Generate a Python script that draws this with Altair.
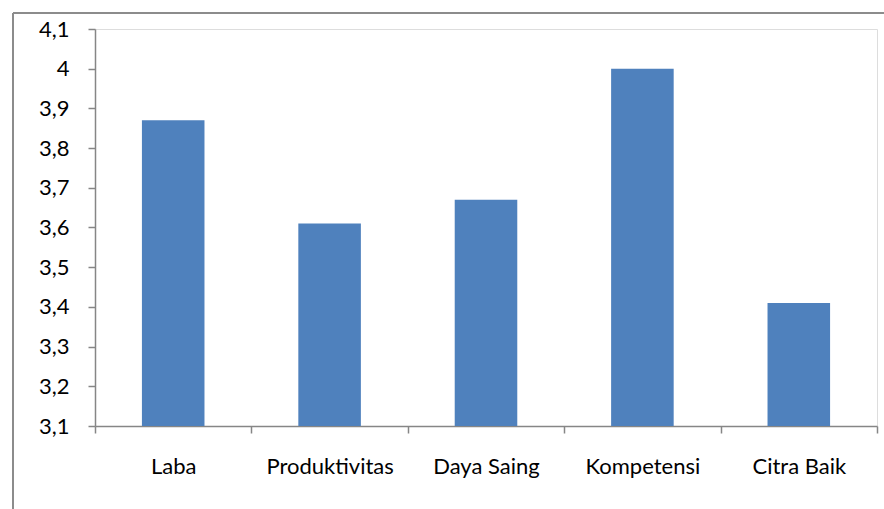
import altair as alt
import pandas as pd

categories = ["Laba", "Produktivitas", "Daya Saing", "Kompetensi", "Citra Baik"]
values = [3.87, 3.61, 3.67, 4.00, 3.41]
y_ticks = [3.1, 3.2, 3.3, 3.4, 3.5, 3.6, 3.7, 3.8, 3.9, 4.0, 4.1]

df = pd.DataFrame({"cat": categories, "val": values})

FONT = "Lato"
GRAY = "#868686"

bars = alt.Chart(df).mark_bar(color="#4F81BD", width=alt.RelativeBandSize(0.4), clip=True).encode(
    x=alt.X("cat:N", sort=categories, title=None,
            scale=alt.Scale(paddingInner=0, paddingOuter=0),
            axis=alt.Axis(labelAngle=0, tickBand="extent", domainColor=GRAY, tickColor=GRAY,
                          tickSize=7, tickWidth=1.5, domainWidth=1.5, labelFont=FONT,
                          labelFontSize=22, labelColor="black", labelPadding=23)),
    y=alt.Y("val:Q", title=None,
            scale=alt.Scale(domain=[3.1, 4.1], zero=False, nice=False),
            axis=alt.Axis(values=y_ticks, grid=False, domainColor=GRAY, tickColor=GRAY,
                          tickSize=7, tickWidth=1.5, domainWidth=1.5, labelFont=FONT,
                          labelFontSize=22, labelColor="black", labelPadding=19,
                          labelExpr="replace(format(datum.value, '.2~f'), '.', ',')")),
    y2=alt.datum(3.1),
)

frame_left = alt.Chart(df).mark_rule(color="#8c8c8c", strokeWidth=2, clip=False).encode(
    x=alt.value(-82), y=alt.value(-16), y2=alt.value(600)
)
frame_top = alt.Chart(df).mark_rule(color="#8c8c8c", strokeWidth=2, clip=False).encode(
    x=alt.value(-82), x2=alt.value(900), y=alt.value(-16)
)

chart = alt.layer(frame_left, frame_top, bars).properties(
    width=782, height=397,
    autosize=alt.AutoSizeParams(type="none"),
    padding={"left": 95, "top": 29, "right": 7, "bottom": 83},
).configure_view(stroke=None).configure(background="white")

chart.save("out.html", embed_options={"renderer": "svg", "actions": False})
